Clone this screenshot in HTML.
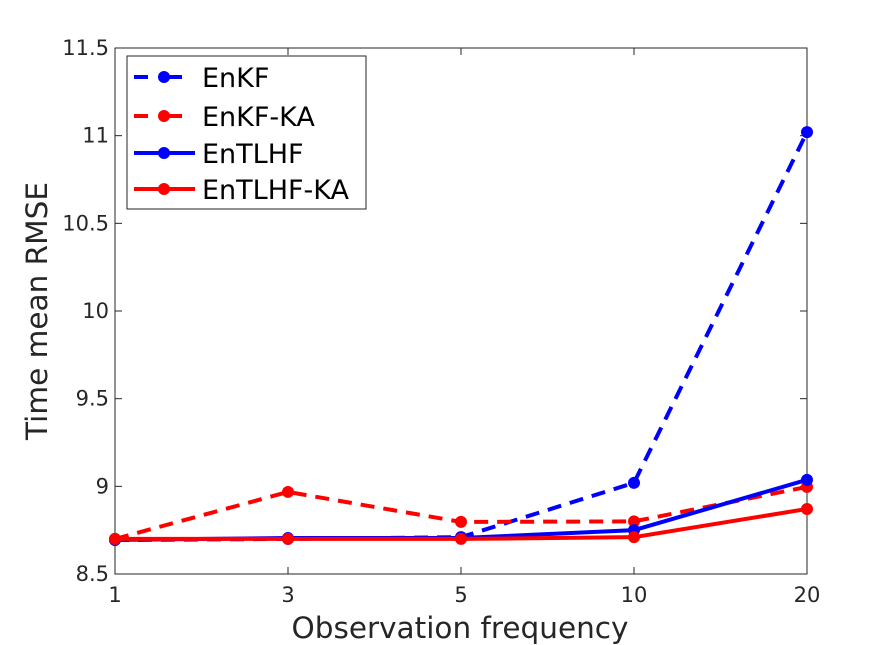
<!DOCTYPE html>
<html><head><meta charset="utf-8"><style>
body{margin:0;background:#fff;}
svg{display:block;font-family:"DejaVu Sans","Liberation Sans",sans-serif;}
</style></head><body>
<svg id="chart" width="891" height="645" viewBox="0 0 891 645">
<rect width="891" height="645" fill="#fff"/>
<g id="axes"></g>
<g id="series"></g>
<g id="legend"></g>
</svg>
<script>
const categories = ["1","3","5","10","20"];
const yTicks = [8.5, 9, 9.5, 10, 10.5, 11, 11.5];
const yTickLabels = ["8.5","9","9.5","10","10.5","11","11.5"];
const enkf = [8.694, 8.70, 8.71, 9.02, 11.02];
const enkfKA = [8.70, 8.968, 8.797, 8.80, 8.997];
const entlhf = [8.695, 8.705, 8.705, 8.75, 9.037];
const entlhfKA = [8.70, 8.70, 8.70, 8.71, 8.871];
const seriesNames = ["EnKF","EnKF-KA","EnTLHF","EnTLHF-KA"];

const L=115,R=807,T=48,B=574,yMin=8.5,yMax=11.5;
const NS="http://www.w3.org/2000/svg";
const xs=i=>L+i*(R-L)/(categories.length-1);
const ys=v=>B-(v-yMin)/(yMax-yMin)*(B-T);
function mk(tag,attrs,parent){const e=document.createElementNS(NS,tag);for(const k in attrs)e.setAttribute(k,attrs[k]);parent.appendChild(e);return e;}
const axes=document.getElementById('axes'),sg=document.getElementById('series'),lg=document.getElementById('legend');

const box=mk('rect',{x:L,y:T,width:R-L,height:B-T,fill:'none',stroke:'#262626','stroke-width':1},axes);


categories.forEach((c,i)=>{
  const x=xs(i);
  const t1=mk('line',{x1:x,x2:x,y1:B,y2:B-7,stroke:'#262626'},axes);
  
  
  const t2=mk('line',{x1:x,x2:x,y1:T,y2:T+7,stroke:'#262626'},axes);
  
  
  const tx=mk('text',{x:x,y:B+28,'text-anchor':'middle','font-size':21,fill:'#262626'},axes);
  tx.textContent=c;
  
  
});
yTicks.forEach((v,i)=>{
  const y=ys(v);
  const t1=mk('line',{x1:L,x2:L+7,y1:y,y2:y,stroke:'#262626'},axes);
  
  
  const t2=mk('line',{x1:R,x2:R-7,y1:y,y2:y,stroke:'#262626'},axes);
  
  
  const tx=mk('text',{x:L-6,y:y+7,'text-anchor':'end','font-size':21,fill:'#262626'},axes);
  tx.textContent=yTickLabels[i];
  
  
});
const xt=mk('text',{x:460,y:638,'text-anchor':'middle','font-size':29.5,fill:'#262626'},axes);
xt.textContent='Observation frequency';


const yt=mk('text',{x:0,y:0,'text-anchor':'middle','font-size':29.5,fill:'#262626',transform:`translate(47,${(T+B)/2}) rotate(-90)`},axes);
yt.textContent='Time mean RMSE';



const styles=[{d:enkf,c:'#0000ff',dash:'14 9',n:'enkf'},{d:enkfKA,c:'#ff0000',dash:'14 9',n:'enkf-ka'},{d:entlhf,c:'#0000ff',dash:'',n:'entlhf'},{d:entlhfKA,c:'#ff0000',dash:'',n:'entlhf-ka'}];
styles.forEach(s=>{
  const g=mk('g',{},sg);
  
  
  const p=mk('polyline',{points:s.d.map((v,i)=>xs(i)+','+ys(v)).join(' '),fill:'none',stroke:s.c,'stroke-width':4,'stroke-dasharray':s.dash},g);
  
  
  s.d.forEach((v,i)=>{
    const c=mk('circle',{cx:xs(i),cy:ys(v),r:6,fill:s.c},g);
    
    
  });
});

const lb=mk('rect',{x:127,y:56,width:239,height:153,fill:'#fff',stroke:'#262626','stroke-width':1},lg);


const ly=[77,116,153,189];
styles.forEach((s,i)=>{
  const g=mk('g',{},lg);
  
  
  mk('line',{x1:134,x2:195,y1:ly[i],y2:ly[i],stroke:s.c,'stroke-width':4,'stroke-dasharray':s.dash?'14 20':''},g);
  mk('circle',{cx:164,cy:ly[i],r:6,fill:s.c},g);
  const t=mk('text',{x:202,y:ly[i]+10,'font-size':27,fill:'#000'},g);
  t.textContent=seriesNames[i];
});
</script>
</body></html>
